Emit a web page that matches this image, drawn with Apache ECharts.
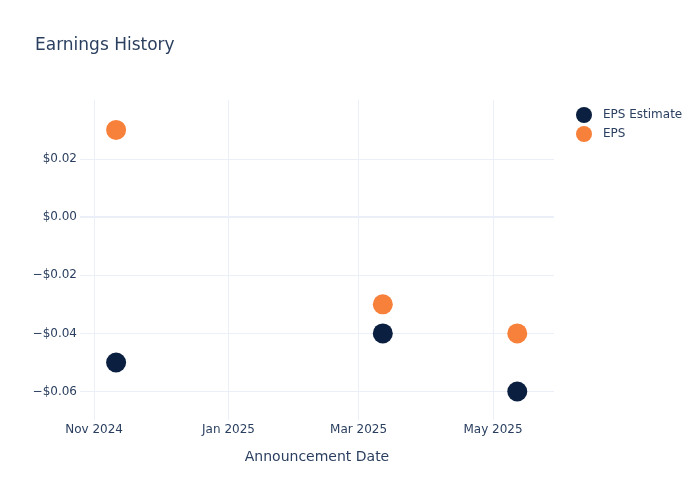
<!DOCTYPE html>
<html>
<head>
<meta charset="utf-8">
<script src="https://cdn.jsdelivr.net/npm/echarts@6/dist/echarts.min.js"></script>
<style>html,body{margin:0;padding:0;background:#fff}#c{width:700px;height:500px}</style>
</head>
<body>
<div id="c"></div>
<script>
var dates = ['2024-11-11', '2025-03-12', '2025-05-12'];
var epsEstimate = [-0.05, -0.04, -0.06];
var eps = [0.03, -0.03, -0.04];
var xTickDates = ['2024-11-01', '2025-01-01', '2025-03-01', '2025-05-01'];
var xTickLabels = ['Nov 2024', 'Jan 2025', 'Mar 2025', 'May 2025'];
var yTicks = [-0.06, -0.04, -0.02, 0, 0.02];

function ts(s) { var p = s.split('-'); return Date.UTC(+p[0], +p[1] - 1, +p[2]); }
var xTickTs = xTickDates.map(ts);
var textColor = '#2a3f5f';
var gridColor = '#ebf0f8';
var font = 'DejaVu Sans, Verdana, sans-serif';

var chart = echarts.init(document.getElementById('c'), null, {renderer: 'canvas'});
chart.setOption({
  animation: false,
  backgroundColor: '#fff',
  title: {text: 'Earnings History', left: 30, top: 32, textStyle: {color: textColor, fontSize: 17, fontWeight: 'normal', fontFamily: font}},
  legend: {
    left: 571, top: 102, orient: 'vertical', icon: 'circle', itemWidth: 16, itemHeight: 16, itemGap: 3,
    textStyle: {color: textColor, fontSize: 12, fontFamily: font, padding: [0, 0, 0, 6]},
    data: ['EPS Estimate', 'EPS']
  },
  grid: {left: 80, right: 146, top: 100, bottom: 80, containLabel: false},
  xAxis: {
    type: 'value',
    min: ts('2024-10-25') + 15 * 3600e3,
    max: ts('2025-05-28') + 16 * 3600e3,
    name: 'Announcement Date', nameLocation: 'middle', nameGap: 30,
    nameTextStyle: {color: textColor, fontSize: 14, fontFamily: font},
    axisLine: {show: false}, axisTick: {show: false, customValues: xTickTs},
    axisLabel: {customValues: xTickTs, color: textColor, fontSize: 12, fontFamily: font, margin: 4,
      formatter: function (v) { var i = xTickTs.indexOf(v); return i >= 0 ? xTickLabels[i] : ''; }},
    splitLine: {show: true, lineStyle: {color: gridColor, width: 1}}
  },
  yAxis: {
    type: 'value', min: -0.0698, max: 0.0403,
    axisLine: {show: false}, axisTick: {show: false, customValues: yTicks},
    axisLabel: {customValues: yTicks, color: textColor, fontSize: 12, fontFamily: font, margin: 3,
      formatter: function (v) { return (v < 0 ? '\u2212' : '') + '$' + Math.abs(v).toFixed(2); }},
    splitLine: {show: true, lineStyle: {color: gridColor, width: 1}}
  },
  series: [
    {name: 'EPS Estimate', type: 'scatter', symbolSize: 20, itemStyle: {color: '#0b1f40', opacity: 1},
      data: dates.map(function (d, i) { return [ts(d), epsEstimate[i]]; }),
      markLine: {silent: true, symbol: 'none', label: {show: false}, lineStyle: {color: gridColor, width: 2, type: 'solid'}, data: [{yAxis: 0}], z: 0}},
    {name: 'EPS', type: 'scatter', symbolSize: 20, itemStyle: {color: '#f7813a', opacity: 1},
      data: dates.map(function (d, i) { return [ts(d), eps[i]]; })}
  ]
});
</script>
</body>
</html>
